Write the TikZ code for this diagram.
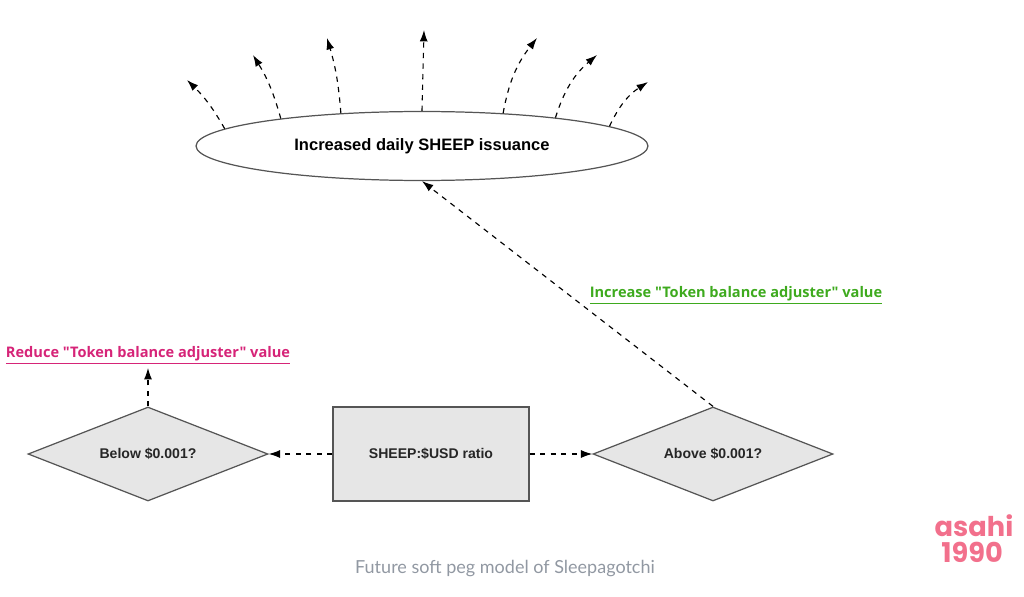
\documentclass[tikz,border=0pt]{standalone}
\usepackage{fontspec}
\setmainfont{Liberation Sans}
\newfontfamily\labelfont{Open Sans}
\newfontfamily\capfont{Lato}
\newfontfamily\markfont{Poppins}
\usetikzlibrary{arrows.meta,shapes.geometric}
\definecolor{shapegray}{RGB}{230,230,230}
\definecolor{edgegray}{RGB}{85,85,85}
\definecolor{reducepink}{RGB}{214,36,120}
\definecolor{increasegreen}{RGB}{62,170,30}
\definecolor{captiongray}{RGB}{145,152,162}
\definecolor{markpink}{RGB}{242,112,140}
\tikzset{
  flow/.style={
    line width=0.65pt,
    dash pattern=on 3pt off 3pt,
    -{Latex[length=6.5pt,width=4.5pt]}
  },
  box-text/.style={
    font=\fontsize{8}{10}\selectfont\bfseries,
    text=black!85
  },
  node-ellipse/.style={
    ellipse,
    draw=edgegray,
    line width=0.7pt,
    minimum width=9.04cm,
    minimum height=1.38cm,
    inner sep=0pt,
    font=\fontsize{9.4}{11}\selectfont\bfseries
  },
  node-box/.style={
    rectangle,
    draw=edgegray,
    line width=0.7pt,
    fill=shapegray,
    minimum width=3.92cm,
    minimum height=1.88cm,
    box-text
  },
  node-diamond/.style={
    diamond,
    aspect=2.55,
    draw=edgegray,
    line width=0.7pt,
    fill=shapegray,
    minimum width=4.8cm,
    minimum height=1.88cm,
    inner sep=0pt,
    box-text
  },
  link-label/.style={
    font=\labelfont\fontsize{8.3}{10}\selectfont\bfseries,
    inner sep=2pt
  }
}

\begin{document}
\begin{tikzpicture}[x=0.02cm,y=0.02cm]
  \useasboundingbox (0,0) rectangle (1024,596);
  \node[node-ellipse] (iss) at (422,450) {Increased daily SHEEP issuance};
  \node[node-box] (ratio) at (431,142) {SHEEP:\$USD ratio};
  \node[node-diamond] (below) at (148,142) {Below \$0.001?};
  \node[node-diamond] (above) at (713,142) {Above \$0.001?};
  \node[link-label, text=reducepink] (reduce) at (148,241)
    {\underline{Reduce "Token balance adjuster" value}};
  \node[link-label, text=increasegreen] (increase) at (736,301)
    {\underline{Increase "Token balance adjuster" value}};

  \draw[flow] (ratio) -- (below);
  \draw[flow] (ratio) -- (above);
  \draw[flow] (below.north) -- (reduce);
  \draw[flow] (above.north) -- (iss.south);

  % spreading issuance
  \coordinate (t1) at (187,516);
  \coordinate (t2) at (253,541);
  \coordinate (t3) at (327,558);
  \coordinate (t4) at (424,566);
  \coordinate (t5) at (537,558);
  \coordinate (t6) at (597,541);
  \coordinate (t7) at (648,514);
  \draw[flow] (iss.175.4) to[bend right=8] (t1);
  \draw[flow] (iss.169.3) to[bend right=8] (t2);
  \draw[flow] (iss.158.3) to[bend right=6] (t3);
  \draw[flow] (iss.north) -- (t4);
  \draw[flow] (iss.22.6) to[bend left=14] (t5);
  \draw[flow] (iss.12.2) to[bend left=16] (t6);
  \draw[flow] (iss.6.1) to[bend left=16] (t7);

  \node[font=\capfont\fontsize{10.25}{12}\selectfont, text=captiongray]
    (caption) at (505,27) {Future soft peg model of Sleepagotchi};
  \node[font=\markfont\fontsize{15.5}{17}\selectfont\bfseries, text=markpink]
    (mark) at (974,70) {asahi};
  \node[font=\markfont\fontsize{15.5}{17}\selectfont\bfseries, text=markpink]
    (year) at (972,44) {1990};
\end{tikzpicture}
\end{document}
